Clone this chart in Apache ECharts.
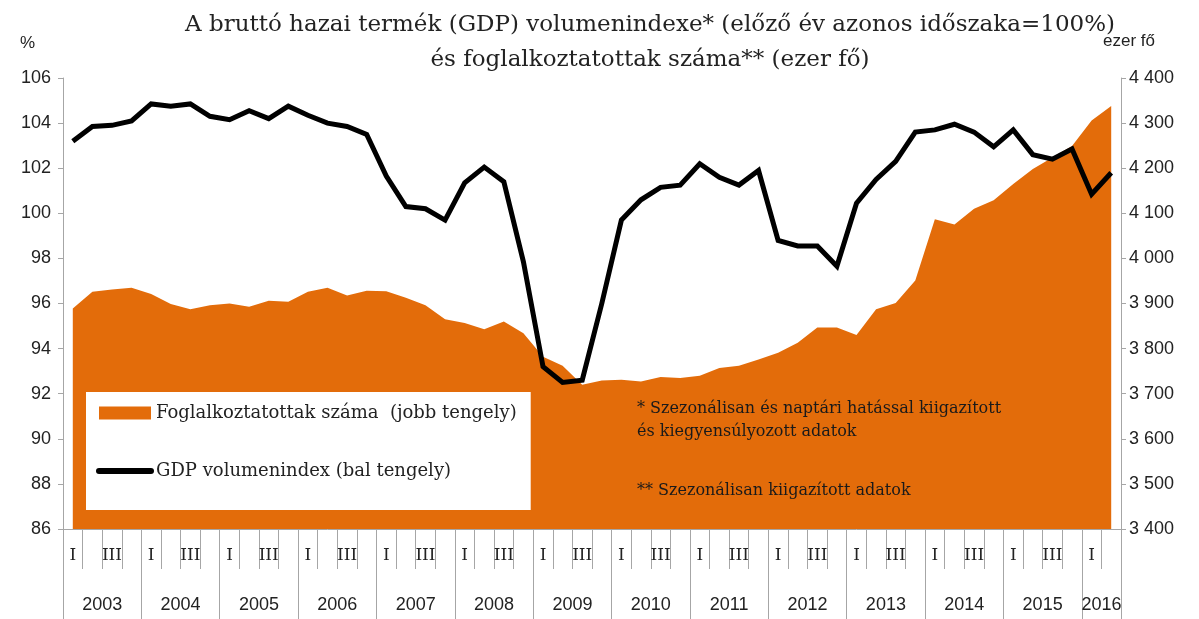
<!DOCTYPE html>
<html>
<head>
<meta charset="utf-8">
<script src="https://cdn.jsdelivr.net/npm/echarts@6/dist/echarts.min.js"></script>
<style>
  html, body { margin: 0; padding: 0; background: #fff; }
  #chart { width: 1199px; height: 619px; }
</style>
</head>
<body>
<div id="chart"></div>
<script>
// negyedévek: 2003 I. - 2016 II.
const years = [2003, 2004, 2005, 2006, 2007, 2008, 2009, 2010, 2011, 2012, 2013, 2014, 2015, 2016];
const quarterNames = ['I', '', 'III', ''];

// GDP volumenindex (bal tengely, %)
const gdpIndex = [
  103.2, 103.85, 103.9, 104.1,
  104.85, 104.75, 104.85, 104.3,
  104.15, 104.55, 104.2, 104.75,
  104.35, 104.0, 103.85, 103.5,
  101.65, 100.3, 100.2, 99.7,
  101.35, 102.05, 101.4, 97.85,
  93.2, 92.5, 92.6, 96.0,
  99.7, 100.6, 101.15, 101.25,
  102.2, 101.6, 101.25, 101.9,
  98.8, 98.55, 98.55, 97.65,
  100.45, 101.5, 102.3, 103.6,
  103.7, 103.95, 103.6, 102.95,
  103.7, 102.6, 102.4, 102.85,
  100.85, 101.8
];

// Foglalkoztatottak száma (jobb tengely, ezer fő)
const employed = [
  3889, 3926, 3931, 3935,
  3921, 3899, 3887, 3896,
  3900, 3893, 3906, 3904,
  3926, 3935, 3918, 3928,
  3927, 3913, 3896, 3865,
  3857, 3843, 3860, 3834,
  3782, 3762, 3720, 3729,
  3731, 3727, 3737, 3735,
  3740, 3757, 3762, 3776,
  3791, 3813, 3847, 3847,
  3830, 3887, 3901, 3951,
  4087, 4075, 4110, 4129,
  4165, 4198, 4224, 4249,
  4306, 4338
];

const quarterLabels = employed.map((v, i) => quarterNames[i % 4]);
const quarterBounds = employed.map((v, i) => i).concat([employed.length]);
const yearBounds = [0, 4, 8, 12, 16, 20, 24, 28, 32, 36, 40, 44, 48, 52, 54];
const yearCenters = [2, 6, 10, 14, 18, 22, 26, 30, 34, 38, 42, 46, 50, 53];

const serif = 'DejaVu Serif';
const sans = 'Liberation Sans';
const orange = '#E36C0A';
const gray = '#a6a6a6';

const chart = echarts.init(document.getElementById('chart'));

chart.setOption({
  animation: false,
  title: {
    text: 'A bruttó hazai termék (GDP) volumenindexe* (előző év azonos időszaka=100%)\nés foglalkoztatottak száma** (ezer fő)',
    left: 645,
    top: 3,
    textAlign: 'center',
    textStyle: { fontFamily: serif, fontSize: 23, fontWeight: 'normal', color: '#222', lineHeight: 35 }
  },
  legend: {
    orient: 'vertical',
    left: 86,
    top: 392,
    padding: [12, 14, 30, 10],
    itemGap: 40,
    itemWidth: 52,
    itemHeight: 13,
    backgroundColor: '#fff',
    textStyle: { fontFamily: serif, fontSize: 18, color: '#222' },
    data: [
      { name: 'Foglalkoztatottak száma  (jobb tengely)', icon: 'rect' },
      {
        name: 'GDP volumenindex (bal tengely)',
        itemStyle: { color: 'rgba(0,0,0,0)', borderWidth: 0, opacity: 0 },
        lineStyle: { color: '#000', width: 6, cap: 'round' }
      }
    ]
  },
  grid: { left: 63, right: 78, top: 78, bottom: 90 },
  xAxis: [
    {
      type: 'category',
      data: quarterLabels,
      boundaryGap: true,
      axisLine: { onZero: false, lineStyle: { color: gray } },
      axisTick: { show: false },
      axisLabel: { interval: 0, margin: 18, fontFamily: serif, fontSize: 17, color: '#222' }
    },
    {
      type: 'value',
      min: 0,
      max: 54,
      position: 'bottom',
      axisLine: { show: false, onZero: false },
      splitLine: { show: false },
      axisTick: { customValues: quarterBounds, length: 40, lineStyle: { color: gray } },
      axisLabel: { show: false }
    },
    {
      type: 'value',
      min: 0,
      max: 54,
      position: 'bottom',
      axisLine: { show: false, onZero: false },
      splitLine: { show: false },
      axisTick: { customValues: yearBounds, length: 90, lineStyle: { color: gray } },
      axisLabel: {
        customValues: yearCenters,
        margin: 67,
        fontFamily: sans,
        fontSize: 18,
        color: '#222',
        formatter: v => String(years[Math.floor(v / 4)])
      }
    }
  ],
  yAxis: [
    {
      type: 'value',
      position: 'left',
      min: 86,
      max: 106,
      interval: 2,
      splitLine: { show: false },
      axisLine: { show: true, onZero: false, lineStyle: { color: gray } },
      axisTick: { show: true, length: 5, lineStyle: { color: gray } },
      axisLabel: { fontFamily: sans, fontSize: 18, color: '#222', margin: 12 },
      name: '%',
      nameLocation: 'end',
      nameGap: 26,
      nameTextStyle: { fontFamily: sans, fontSize: 17, color: '#222', align: 'right', padding: [0, 28, 0, 0] }
    },
    {
      type: 'value',
      position: 'right',
      min: 3400,
      max: 4400,
      interval: 100,
      splitLine: { show: false },
      axisLine: { show: true, onZero: false, lineStyle: { color: gray } },
      axisTick: { show: true, length: 5, lineStyle: { color: gray } },
      axisLabel: {
        fontFamily: sans, fontSize: 18, color: '#222', margin: 8,
        formatter: v => String(v).replace(/\B(?=(\d{3})+(?!\d))/g, ' ')
      },
      name: 'ezer fő',
      nameLocation: 'end',
      nameGap: 28,
      nameTextStyle: { fontFamily: sans, fontSize: 17, color: '#222', align: 'left', padding: [0, 0, 0, -18] }
    }
  ],
  series: [
    {
      name: 'Foglalkoztatottak száma  (jobb tengely)',
      type: 'line',
      xAxisIndex: 0,
      yAxisIndex: 1,
      data: employed,
      symbol: 'none',
      color: orange,
      lineStyle: { width: 0 },
      areaStyle: { color: orange, opacity: 1, origin: 'start' },
      z: 1
    },
    {
      name: 'GDP volumenindex (bal tengely)',
      type: 'line',
      xAxisIndex: 0,
      yAxisIndex: 0,
      data: gdpIndex,
      symbol: 'none',
      color: '#000',
      lineStyle: { width: 5, color: '#000', join: 'miter' },
      z: 3
    }
  ],
  graphic: [
    {
      type: 'text',
      left: 637,
      top: 397,
      z: 10,
      style: {
        text: '* Szezonálisan és naptári hatással kiigazított\nés kiegyensúlyozott adatok',
        fontFamily: serif,
        fontSize: 16,
        lineHeight: 23,
        fill: '#1a1a1a'
      }
    },
    {
      type: 'text',
      left: 637,
      top: 479,
      z: 10,
      style: {
        text: '** Szezonálisan kiigazított adatok',
        fontFamily: serif,
        fontSize: 16,
        lineHeight: 23,
        fill: '#1a1a1a'
      }
    }
  ]
});

window.onresize = () => {
  chart.resize();
};
</script>
</body>
</html>
